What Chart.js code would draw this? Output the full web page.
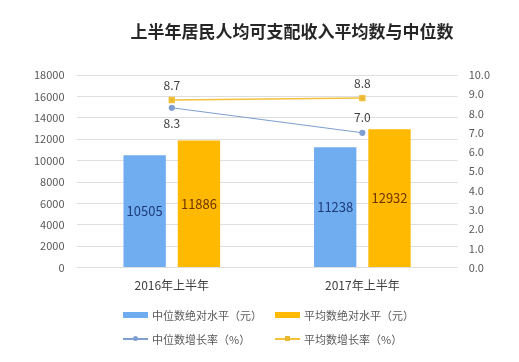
<!DOCTYPE html>
<html>
<head>
<meta charset="utf-8">
<script src="https://cdn.jsdelivr.net/npm/chart.js@4"></script>
<style>
  body { margin: 0; background: #fff; font-family: "Noto Sans CJK SC", sans-serif; }
  #wrap { position: relative; width: 519px; height: 362px; }
  #title { position: absolute; left: 130px; top: 18px; width: 324px; text-align: center;
           font-size: 17px; font-weight: bold; color: #262626; white-space: nowrap; }
  #legend { position: absolute; left: 123px; top: 307px; width: 320px; font-size: 11px; color: #595959; }
  .item { position: absolute; display: flex; align-items: center; white-space: nowrap; }
  .sw { width: 25px; height: 6px; margin-right: 4px; position: relative; }
  .ln { width: 25px; height: 1.5px; margin-right: 4px; position: relative; }
  .ln i { position: absolute; left: 10px; top: -2px; width: 5px; height: 5px; }
</style>
</head>
<body>
<div id="wrap">
  <canvas id="myChart" width="519" height="362"></canvas>
  <div id="title">上半年居民人均可支配收入平均数与中位数</div>
  <div id="legend"></div>
</div>
<script>
const categories = ['2016年上半年', '2017年上半年'];
const medianIncome = [10505, 11238];
const meanIncome = [11886, 12932];
const medianGrowth = [8.3, 7.0];
const meanGrowth = [8.7, 8.8];
const seriesNames = ['中位数绝对水平（元）', '平均数绝对水平（元）', '中位数增长率（%）', '平均数增长率（%）'];

document.addEventListener("DOMContentLoaded", function () {
    const ctx = document.getElementById('myChart').getContext('2d');

    // labels on bars (centered) and on line points (above/below)
    const valueLabels = {
        id: 'valueLabels',
        afterDatasetsDraw(chart) {
            const c = chart.ctx;
            c.save();
            c.textAlign = 'center';
            c.textBaseline = 'middle';
            chart.data.datasets.forEach((ds, i) => {
                const meta = chart.getDatasetMeta(i);
                meta.data.forEach((el, j) => {
                    const v = ds.data[j];
                    if (ds.type === 'line') {
                        c.font = '12px "Noto Sans CJK SC", sans-serif';
                        c.fillStyle = '#404040';
                        const dy = ds.labelPos[j] === 'below' ? 16 : -15;
                        c.fillText(v.toFixed(1), el.x, el.y + dy);
                    } else {
                        c.font = '13px "Noto Sans CJK SC", sans-serif';
                        c.fillStyle = ds.labelColor;
                        c.fillText(String(v), el.x, (el.y + el.base) / 2);
                    }
                });
            });
            c.restore();
        }
    };

    const chart = new Chart(ctx, {
        type: 'bar',
        data: {
            labels: categories,
            datasets: [
                {
                    type: 'line', label: seriesNames[2], data: medianGrowth, yAxisID: 'y1',
                    borderColor: '#7f9fd0', backgroundColor: '#7f9fd0', borderWidth: 1.2,
                    pointStyle: 'circle', pointRadius: 2.5, order: 0, labelPos: ['below', 'above']
                },
                {
                    type: 'line', label: seriesNames[3], data: meanGrowth, yAxisID: 'y1',
                    borderColor: '#f3c03c', backgroundColor: '#e8b830', borderWidth: 1.5,
                    pointStyle: 'rect', pointRadius: 3.5, order: 0, labelPos: ['above', 'above']
                },
                {
                    label: seriesNames[0], data: medianIncome, yAxisID: 'y',
                    backgroundColor: '#70adf0', labelColor: '#1d3b78', order: 1,
                    categoryPercentage: 0.57, barPercentage: 0.78
                },
                {
                    label: seriesNames[1], data: meanIncome, yAxisID: 'y',
                    backgroundColor: '#ffb900', labelColor: '#6e3300', order: 1,
                    categoryPercentage: 0.57, barPercentage: 0.78
                }
            ]
        },
        options: {
            responsive: false,
            animation: false,
            layout: { padding: { left: 22, right: 18, top: 75, bottom: 66 } },
            plugins: { legend: { display: false }, tooltip: { enabled: false } },
            scales: {
                x: {
                    grid: { display: false },
                    border: { display: false },
                    ticks: { color: '#404040', padding: 3, font: { size: 12, family: '"Noto Sans CJK SC", sans-serif' } }
                },
                y: {
                    position: 'left', min: 0, max: 18000,
                    ticks: { stepSize: 2000, color: '#595959', padding: 12, callback: v => String(v),
                             font: { size: 11, family: '"Noto Sans CJK SC", sans-serif' } },
                    grid: { color: '#dedede', drawTicks: false },
                    border: { display: false }
                },
                y1: {
                    position: 'right', min: 0, max: 10,
                    ticks: { stepSize: 1, color: '#595959', padding: 11, callback: v => v.toFixed(1),
                             font: { size: 11, family: '"Noto Sans CJK SC", sans-serif' } },
                    grid: { display: false, drawTicks: false },
                    border: { display: false }
                }
            }
        },
        plugins: [valueLabels]
    });

    // legend: bars on row 1, lines on row 2
    const legend = document.getElementById('legend');
    const order = [2, 3, 0, 1];
    order.forEach((di, k) => {
        const ds = chart.data.datasets[di];
        const item = document.createElement('div');
        item.className = 'item';
        item.style.left = (k % 2 ? 152 : 0) + 'px';
        item.style.top = (k < 2 ? 0 : 24) + 'px';
        let mark;
        if (ds.type === 'line') {
            mark = '<span class="ln" style="background:' + ds.borderColor + '"><i style="background:' +
                ds.backgroundColor + ';border-radius:' + (ds.pointStyle === 'circle' ? '50%' : '0') + '"></i></span>';
        } else {
            mark = '<span class="sw" style="background:' + ds.backgroundColor + '"></span>';
        }
        item.innerHTML = mark + '<span>' + ds.label + '</span>';
        legend.appendChild(item);
    });
});
</script>
</body>
</html>
